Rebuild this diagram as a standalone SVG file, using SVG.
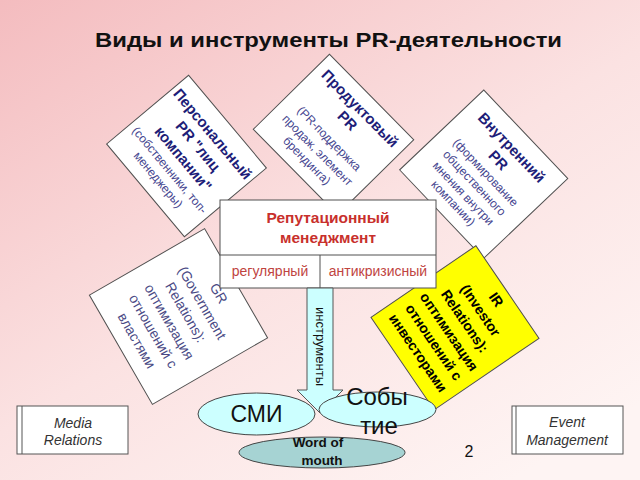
<svg xmlns="http://www.w3.org/2000/svg" width="640" height="480" viewBox="0 0 640 480">
<defs>
<linearGradient id="bg" x1="0" y1="0" x2="0.8" y2="1">
<stop offset="0" stop-color="#f4bcbf"/>
<stop offset="0.55" stop-color="#fbe2e2"/>
<stop offset="1" stop-color="#fef4f3"/>
</linearGradient>
<style>
text{font-family:"Liberation Sans",Arial,sans-serif;text-anchor:middle}
.box{fill:#fff;stroke:#505050;stroke-width:1}
.hd{font-weight:bold;font-size:15px;fill:#1d1d78}
.ds{font-size:12px;fill:#45458f}
.gr{font-size:14px;fill:#4a4a85}
.ir{font-weight:bold;font-size:14px;fill:#000}
.rep{font-weight:bold;font-size:15.5px;fill:#c8302c}
.sub{font-size:14px;fill:#c0443f}
.ell{stroke:#444;stroke-width:1}
.it{font-style:italic;font-size:14px;fill:#333}
</style>
</defs>
<rect width="640" height="480" fill="url(#bg)"/>
<text x="328.5" y="46.5" textLength="467" lengthAdjust="spacingAndGlyphs" style="font-weight:bold;font-size:21px;fill:#111">Виды и инструменты PR-деятельности</text>

<g id="personal" transform="translate(186.5 156) rotate(50)">
<rect class="box" x="-60.5" y="-53.5" width="121" height="107"/>
<text class="hd" y="-29">Персональный</text>
<text class="hd" y="-10">PR "лиц</text>
<text class="hd" y="9.5">компании"</text>
<text class="ds" y="26">(собственники, топ-</text>
<text class="ds" y="41">менеджеры)</text>
</g>

<g id="product" transform="translate(333.5 134.5) rotate(45.4)">
<rect class="box" x="-60" y="-53.5" width="120" height="107"/>
<text class="hd" y="-32">Продуктовый</text>
<text class="hd" y="-14.5">PR</text>
<text class="ds" y="10">(PR-поддержка</text>
<text class="ds" y="26.5">продаж, элемент</text>
<text class="ds" y="41.5">брендинга)</text>
</g>

<g id="internal" transform="translate(483.7 174.2) rotate(46.5)">
<rect class="box" x="-61" y="-58" width="122" height="116"/>
<text class="hd" y="-33.5">Внутренний</text>
<text class="hd" y="-15">PR</text>
<text class="ds" y="1.5">(формирование</text>
<text class="ds" y="16.8">общественного</text>
<text class="ds" y="32">мнения внутри</text>
<text class="ds" y="46">компании)</text>
</g>

<g id="gr" transform="translate(178.5 316.5) rotate(60)">
<rect class="box" x="-63" y="-66.5" width="126" height="133"/>
<text class="gr" y="-41.5">GR</text>
<text class="gr" y="-22.5">(Government</text>
<text class="gr" y="-3.5">Relations):</text>
<text class="gr" y="15.5">оптимизация</text>
<text class="gr" y="34">отношений с</text>
<text class="gr" y="53">властями</text>
</g>

<g id="ir" transform="translate(455 327.8) rotate(55.7)">
<rect x="-56" y="-63.5" width="112" height="127" fill="#ffff00" stroke="#505050" stroke-width="1"/>
<text class="ir" y="-45">IR</text>
<text class="ir" y="-26">(Investor</text>
<text class="ir" y="-7">Relations):</text>
<text class="ir" y="12">оптимизация</text>
<text class="ir" y="30.5">отношений с</text>
<text class="ir" y="49.5">инвесторами</text>
</g>

<g id="reputation">
<rect class="box" x="220" y="200" width="216" height="88"/>
<line x1="220" y1="255" x2="436" y2="255" stroke="#505050"/>
<line x1="320" y1="255" x2="320" y2="288" stroke="#505050"/>
<text class="rep" x="328" y="223">Репутационный</text>
<text class="rep" x="328" y="243">менеджмент</text>
<text class="sub" x="270" y="275.5">регулярный</text>
<text class="sub" x="378" y="275.5">антикризисный</text>
</g>

<g id="connectors">
<polygon points="307,288 333,288 333,390 343,390 320,413 297,390 307,390" fill="#ccffff" stroke="#555" stroke-width="1"/>
<text transform="translate(320 346.5) rotate(90)" y="4.5" style="font-size:13px;fill:#111">инструменты</text>
</g>

<g id="smi">
<ellipse class="ell" cx="256.5" cy="414" rx="58.5" ry="21" fill="#ccffff"/>
<text x="256.5" y="422" style="font-size:23px;fill:#111">СМИ</text>
</g>

<g id="event">
<ellipse class="ell" cx="377.5" cy="409.5" rx="58.5" ry="17.5" fill="#ccffff"/>
<text x="377" y="405" style="font-size:24px;fill:#111">Собы</text>
<text x="379" y="434" style="font-size:24px;fill:#111">тие</text>
</g>

<g id="wom">
<ellipse class="ell" cx="322" cy="452.5" rx="83" ry="15.5" fill="#a6d3d3"/>
<text x="318" y="446.5" style="font-weight:bold;font-size:13.5px;fill:#111">Word of</text>
<text x="322" y="465" style="font-weight:bold;font-size:13.5px;fill:#111">mouth</text>
</g>

<g id="media-relations">
<rect x="17" y="406" width="111" height="48" fill="#fff" stroke="#555"/>
<line x1="22" y1="406" x2="22" y2="454" stroke="#555"/>
<text class="it" x="73" y="427.5">Media</text>
<text class="it" x="73" y="445">Relations</text>
</g>

<g id="event-management">
<rect x="512" y="406" width="111" height="48" fill="#fff" stroke="#555"/>
<line x1="516" y1="406" x2="516" y2="454" stroke="#555"/>
<text class="it" x="567" y="427">Event</text>
<text class="it" x="567" y="445">Management</text>
</g>

<text x="469" y="457" style="font-size:16px;fill:#111">2</text>
</svg>
